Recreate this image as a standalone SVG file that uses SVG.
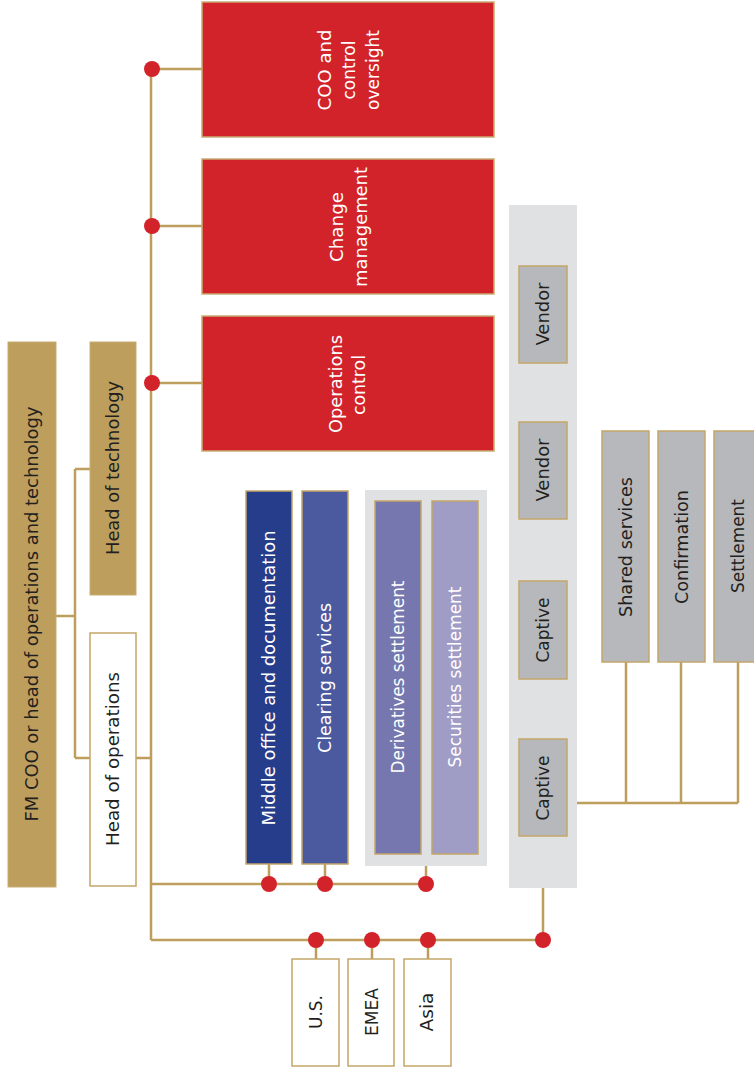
<svg xmlns="http://www.w3.org/2000/svg" width="754" height="1069" viewBox="0 0 754 1069">
<style>
.t{font-family:"DejaVu Sans","Liberation Sans",sans-serif;font-size:18px;text-anchor:middle}
.dk{fill:#231f20}
.wt{fill:#ffffff}
.tan{fill:#bd9e5c;stroke:#c8ad74;stroke-width:1}
.wbox{fill:#ffffff;stroke:#c4a66a;stroke-width:1.5}
.red{fill:#d2232a;stroke:#c8ad74;stroke-width:1.5}
.gbox{fill:#b7b8bb;stroke:#c4a66a;stroke-width:1.5}
.cont{fill:#e0e1e3}
.ln{fill:none;stroke:#bd9e5c;stroke-width:2.5}
.dot{fill:#d2232a}
</style>
<rect width="754" height="1069" fill="#ffffff"/>
<g id="containers">
<rect class="cont" x="365" y="490" width="122" height="376"/>
<rect class="cont" x="509" y="205" width="68" height="683"/>
</g>
<g id="connectors">
<path class="ln" d="M56,616H75M75,469V758M75,469H90M75,758H90M136,758H151"/>
<path class="ln" d="M151,69V940M151,69H202M151,226H202M151,383H202"/>
<path class="ln" d="M151,884H426M269,864V884M325,864V884M426,866V884"/>
<path class="ln" d="M151,940H543M316,940V959M372,940V959M428,940V959M543,888V940"/>
<path class="ln" d="M577,803H738M626,662V803M681,662V803M738,662V803"/>
<circle class="dot" cx="152" cy="69" r="8"/>
<circle class="dot" cx="152" cy="226" r="8"/>
<circle class="dot" cx="152" cy="383" r="8"/>
<circle class="dot" cx="269" cy="884" r="8"/>
<circle class="dot" cx="325" cy="884" r="8"/>
<circle class="dot" cx="426" cy="884" r="8"/>
<circle class="dot" cx="316" cy="940" r="8"/>
<circle class="dot" cx="372" cy="940" r="8"/>
<circle class="dot" cx="428" cy="940" r="8"/>
<circle class="dot" cx="543" cy="940" r="8"/>
</g>
<g id="fm-coo">
<rect class="tan" x="8" y="342" width="48" height="545"/>
<text class="t dk" transform="translate(38,614) rotate(-90)" textLength="415" lengthAdjust="spacingAndGlyphs">FM COO or head of operations and technology</text>
</g>
<g id="head-tech">
<rect class="tan" x="90" y="342" width="46" height="253"/>
<text class="t dk" transform="translate(119,468) rotate(-90)" textLength="174" lengthAdjust="spacingAndGlyphs">Head of technology</text>
</g>
<g id="head-ops">
<rect class="wbox" x="90" y="633" width="46" height="253"/>
<text class="t dk" transform="translate(119,759) rotate(-90)" textLength="174" lengthAdjust="spacingAndGlyphs">Head of operations</text>
</g>
<g id="coo-oversight">
<rect class="red" x="202" y="2" width="292" height="135"/>
<text class="t wt" transform="translate(331,70) rotate(-90)" textLength="81" lengthAdjust="spacingAndGlyphs">COO and</text>
<text class="t wt" transform="translate(355,70) rotate(-90)" textLength="59" lengthAdjust="spacingAndGlyphs">control</text>
<text class="t wt" transform="translate(379,70) rotate(-90)" textLength="80" lengthAdjust="spacingAndGlyphs">oversight</text>
</g>
<g id="change-mgmt">
<rect class="red" x="202" y="159" width="292" height="135"/>
<text class="t wt" transform="translate(343,227) rotate(-90)" textLength="70" lengthAdjust="spacingAndGlyphs">Change</text>
<text class="t wt" transform="translate(367,227) rotate(-90)" textLength="120" lengthAdjust="spacingAndGlyphs">management</text>
</g>
<g id="ops-control">
<rect class="red" x="202" y="316" width="292" height="135"/>
<text class="t wt" transform="translate(342,384) rotate(-90)" textLength="98" lengthAdjust="spacingAndGlyphs">Operations</text>
<text class="t wt" transform="translate(365,385) rotate(-90)" textLength="60" lengthAdjust="spacingAndGlyphs">control</text>
</g>
<g id="middle-office">
<rect x="246" y="491" width="46" height="373" fill="#253d8b" stroke="#c4a66a" stroke-width="1.5"/>
<text class="t wt" transform="translate(275,678) rotate(-90)" textLength="295" lengthAdjust="spacingAndGlyphs">Middle office and documentation</text>
</g>
<g id="clearing">
<rect x="302" y="491" width="46" height="373" fill="#4b5a9e" stroke="#c4a66a" stroke-width="1.5"/>
<text class="t wt" transform="translate(331,678) rotate(-90)" textLength="150" lengthAdjust="spacingAndGlyphs">Clearing services</text>
</g>
<g id="derivatives">
<rect x="375" y="501" width="46" height="353" fill="#7577ae" stroke="#c4a66a" stroke-width="1.5"/>
<text class="t wt" transform="translate(404,677) rotate(-90)" textLength="193" lengthAdjust="spacingAndGlyphs">Derivatives settlement</text>
</g>
<g id="securities">
<rect x="432" y="501" width="46" height="353" fill="#9f9cc6" stroke="#c4a66a" stroke-width="1.5"/>
<text class="t wt" transform="translate(461,677) rotate(-90)" textLength="181" lengthAdjust="spacingAndGlyphs">Securities settlement</text>
</g>
<g id="us">
<rect class="wbox" x="292" y="959" width="47" height="107"/>
<text class="t dk" transform="translate(322,1012) rotate(-90)" textLength="34" lengthAdjust="spacingAndGlyphs">U.S.</text>
</g>
<g id="emea">
<rect class="wbox" x="348" y="959" width="46" height="107"/>
<text class="t dk" transform="translate(378,1012) rotate(-90)" textLength="48" lengthAdjust="spacingAndGlyphs">EMEA</text>
</g>
<g id="asia">
<rect class="wbox" x="404" y="959" width="47" height="107"/>
<text class="t dk" transform="translate(433,1012) rotate(-90)" textLength="39" lengthAdjust="spacingAndGlyphs">Asia</text>
</g>
<g id="vendor-1">
<rect class="gbox" x="519" y="266" width="48" height="97"/>
<text class="t dk" transform="translate(549,314) rotate(-90)" textLength="63" lengthAdjust="spacingAndGlyphs">Vendor</text>
</g>
<g id="vendor-2">
<rect class="gbox" x="519" y="422" width="48" height="97"/>
<text class="t dk" transform="translate(549,470) rotate(-90)" textLength="63" lengthAdjust="spacingAndGlyphs">Vendor</text>
</g>
<g id="captive-1">
<rect class="gbox" x="519" y="581" width="48" height="98"/>
<text class="t dk" transform="translate(549,630) rotate(-90)" textLength="65" lengthAdjust="spacingAndGlyphs">Captive</text>
</g>
<g id="captive-2">
<rect class="gbox" x="519" y="739" width="48" height="97"/>
<text class="t dk" transform="translate(549,788) rotate(-90)" textLength="65" lengthAdjust="spacingAndGlyphs">Captive</text>
</g>
<g id="shared-services">
<rect class="gbox" x="602" y="431" width="47" height="231"/>
<text class="t dk" transform="translate(632,547) rotate(-90)" textLength="140" lengthAdjust="spacingAndGlyphs">Shared services</text>
</g>
<g id="confirmation">
<rect class="gbox" x="658" y="431" width="47" height="231"/>
<text class="t dk" transform="translate(688,547) rotate(-90)" textLength="114" lengthAdjust="spacingAndGlyphs">Confirmation</text>
</g>
<g id="settlement">
<rect class="gbox" x="714" y="431" width="48" height="231"/>
<text class="t dk" transform="translate(744,546) rotate(-90)" textLength="94" lengthAdjust="spacingAndGlyphs">Settlement</text>
</g>
</svg>
